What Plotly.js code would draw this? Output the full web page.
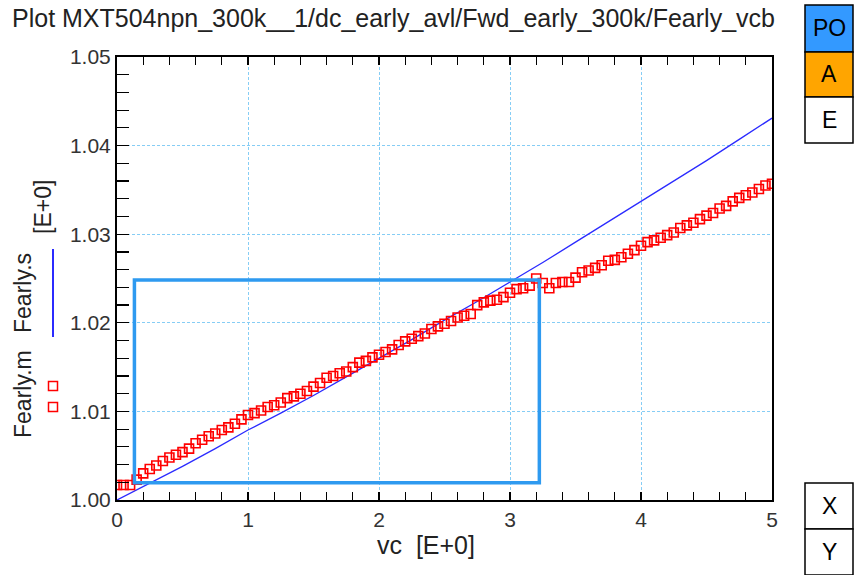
<!DOCTYPE html>
<html>
<head>
<meta charset="utf-8">
<script src="https://cdn.plot.ly/plotly-3.0.1.min.js"></script>
<style>html,body{margin:0;padding:0;background:#fff;}#chart{width:857px;height:575px;}</style>
</head>
<body>
<div id="chart"></div>
<script>
// Fearly.s (simulated, blue line)
const simX = [0, 0.25, 0.5, 0.75, 1.0, 1.25, 1.5, 1.75, 2.0, 2.25, 2.5, 2.75, 3.0, 3.25, 3.5, 3.75, 4.0, 4.25, 4.5, 4.75, 5.0];
const simY = [1.0000, 1.0019, 1.0038, 1.0058, 1.0079, 1.0098, 1.0118, 1.0139, 1.0160, 1.0181, 1.0203, 1.0224, 1.0246, 1.0268, 1.0291, 1.0314, 1.0337, 1.0360, 1.0383, 1.0407, 1.0431];

// Fearly.m (measured, red squares)
const measX = [0.00,0.05,0.10,0.15,0.20,0.25,0.30,0.35,0.40,0.45,0.50,0.55,0.60,0.65,0.70,0.75,0.80,0.85,0.90,0.95,
  1.00,1.05,1.10,1.15,1.20,1.25,1.30,1.35,1.40,1.45,1.50,1.55,1.60,1.65,1.70,1.75,1.80,1.85,1.90,1.95,
  2.00,2.05,2.10,2.15,2.20,2.25,2.30,2.35,2.40,2.45,2.50,2.55,2.60,2.65,2.70,2.75,2.80,2.85,2.90,2.95,
  3.00,3.05,3.10,3.15,3.20,3.25,3.30,3.35,3.40,3.45,3.50,3.55,3.60,3.65,3.70,3.75,3.80,3.85,3.90,3.95,
  4.00,4.05,4.10,4.15,4.20,4.25,4.30,4.35,4.40,4.45,4.50,4.55,4.60,4.65,4.70,4.75,4.80,4.85,4.90,4.95,5.00];
const measY = [1.0017,1.0017,1.0017,1.0023,1.0030,1.0035,1.0039,1.0044,1.0048,1.0051,1.0054,1.0058,1.0064,1.0068,1.0072,1.0075,1.0079,1.0082,1.0086,1.0091,
  1.0096,1.0098,1.0101,1.0105,1.0107,1.0110,1.0115,1.0117,1.0120,1.0123,1.0128,1.0132,1.0138,1.0140,1.0143,1.0145,1.0150,1.0155,1.0157,1.0161,
  1.0164,1.0167,1.0170,1.0175,1.0179,1.0182,1.0185,1.0188,1.0193,1.0196,1.0199,1.0202,1.0206,1.0208,1.0210,1.0220,1.0223,1.0225,1.0226,1.0229,
  1.0234,1.0238,1.0239,1.0242,1.0250,1.0245,1.0239,1.0245,1.0246,1.0246,1.0251,1.0257,1.0259,1.0262,1.0265,1.0270,1.0271,1.0274,1.0278,1.0282,
  1.0287,1.0291,1.0293,1.0296,1.0299,1.0302,1.0307,1.0310,1.0313,1.0317,1.0321,1.0324,1.0329,1.0332,1.0337,1.0341,1.0344,1.0347,1.0351,1.0355,1.0357];

const xTickVals = [0, 1, 2, 3, 4, 5];
const yTickVals = [1.00, 1.01, 1.02, 1.03, 1.04, 1.05];

const titleText = "Plot MXT504npn_300k__1/dc_early_avl/Fwd_early_300k/Fearly_vcb";
const xTitle = "vc\u00a0\u00a0[E+0]";
const legendM = "Fearly.m";
const legendS = "Fearly.s";
const yUnit = "[E+0]";
const buttonsTop = ["PO", "A", "E"];
const buttonsBottom = ["X", "Y"];

const FONT = "Liberation Sans, Arial, sans-serif";
const L = 117, R = 772, T = 57, B = 500;
const px2x = p => (p - L) / (R - L);
const py2y = p => (B - p) / (B - T);

const traces = [
  {x: simX, y: simY, type: 'scatter', mode: 'lines', line: {color: '#2b2bff', width: 1.3}, hoverinfo: 'skip'},
  {x: measX, y: measY, type: 'scatter', mode: 'markers',
   marker: {symbol: 'square-open', size: 9, color: '#ff0000', line: {width: 1.6, color: '#ff0000'}}, hoverinfo: 'skip'}
];

const shapes = [
  {type: 'rect', xref: 'x', yref: 'y', x0: 0.133, x1: 3.224, y0: 1.00196, y1: 1.02483,
   line: {color: '#2e9af0', width: 3.5}, fillcolor: 'rgba(0,0,0,0)'},
  // legend symbols
  {type: 'line', xref: 'paper', yref: 'paper', x0: px2x(53), x1: px2x(53), y0: py2y(249), y1: py2y(337),
   line: {color: '#2b2bff', width: 2}},
  {type: 'rect', xref: 'paper', yref: 'paper', x0: px2x(48.5), x1: px2x(57.5), y0: py2y(381.5), y1: py2y(390.5),
   line: {color: '#ff0000', width: 1.5}},
  {type: 'rect', xref: 'paper', yref: 'paper', x0: px2x(48.5), x1: px2x(57.5), y0: py2y(402.5), y1: py2y(411.5),
   line: {color: '#ff0000', width: 1.5}}
];

const topColors = ['#3399ff', '#ffa500', '#ffffff'];
const topEdges = [5, 52, 97, 143];
const annotations = [];
buttonsTop.forEach((t, i) => {
  shapes.push({type: 'rect', xref: 'paper', yref: 'paper', x0: px2x(805), x1: px2x(853),
    y0: py2y(topEdges[i + 1]), y1: py2y(topEdges[i]), fillcolor: topColors[i], line: {color: '#000', width: 1.5}});
  annotations.push({text: t, xref: 'paper', yref: 'paper', x: px2x(829), y: py2y((topEdges[i] + topEdges[i + 1]) / 2),
    showarrow: false, font: {family: FONT, size: 23, color: '#000'}, xanchor: 'center', yanchor: 'middle'});
});
const botEdges = [483, 529, 575];
buttonsBottom.forEach((t, i) => {
  shapes.push({type: 'rect', xref: 'paper', yref: 'paper', x0: px2x(805), x1: px2x(853),
    y0: py2y(botEdges[i + 1]), y1: py2y(botEdges[i]), fillcolor: '#ffffff', line: {color: '#000', width: 1.5}});
  annotations.push({text: t, xref: 'paper', yref: 'paper', x: px2x(829), y: py2y((botEdges[i] + botEdges[i + 1]) / 2),
    showarrow: false, font: {family: FONT, size: 23, color: '#000'}, xanchor: 'center', yanchor: 'middle'});
});

annotations.push({text: xTitle, xref: 'paper', yref: 'paper', x: px2x(426), y: py2y(545), showarrow: false,
  font: {family: FONT, size: 25, color: '#222'}, xanchor: 'center', yanchor: 'middle'});
annotations.push({text: legendM, xref: 'paper', yref: 'paper', x: px2x(23), y: py2y(394), showarrow: false, textangle: -90,
  font: {family: FONT, size: 23, color: '#222'}, xanchor: 'center', yanchor: 'middle'});
annotations.push({text: legendS, xref: 'paper', yref: 'paper', x: px2x(23), y: py2y(293), showarrow: false, textangle: -90,
  font: {family: FONT, size: 23, color: '#222'}, xanchor: 'center', yanchor: 'middle'});
annotations.push({text: yUnit, xref: 'paper', yref: 'paper', x: px2x(43), y: py2y(207), showarrow: false, textangle: -90,
  font: {family: FONT, size: 23, color: '#222'}, xanchor: 'center', yanchor: 'middle'});

const layout = {
  width: 857, height: 575,
  margin: {l: L, r: 857 - R, t: T, b: 575 - B, pad: 0},
  paper_bgcolor: '#ffffff', plot_bgcolor: '#ffffff',
  showlegend: false,
  title: {text: titleText, x: 12 / 857, xanchor: 'left', xref: 'container', y: 1 - 18 / 575, yanchor: 'middle', yref: 'container',
    font: {family: FONT, size: 25, color: '#222'}},
  xaxis: {range: [0, 5], tickvals: xTickVals, ticktext: xTickVals.map(String),
    showline: true, linecolor: '#000', linewidth: 2, mirror: 'ticks',
    ticks: 'inside', ticklen: 8, tickcolor: '#000', tickwidth: 1,
    showgrid: true, gridcolor: '#86cdf5', gridwidth: 1, griddash: '3px,2px', zeroline: false,
    minor: {dtick: 0.2, tick0: 0, ticks: 'inside', ticklen: 8, tickcolor: '#000', tickwidth: 1.2, showgrid: false},
    tickfont: {family: FONT, size: 21, color: '#333'}},
  yaxis: {range: [1.0, 1.05], tickvals: yTickVals, ticktext: yTickVals.map(v => v.toFixed(2)),
    showline: true, linecolor: '#000', linewidth: 2, mirror: true,
    ticks: 'inside', ticklen: 12, tickcolor: '#000', tickwidth: 1,
    showgrid: true, gridcolor: '#86cdf5', gridwidth: 1, griddash: '3px,2px', zeroline: false,
    minor: {dtick: 0.002, tick0: 1.0, ticks: 'inside', ticklen: 12, tickcolor: '#000', tickwidth: 1.2, showgrid: false},
    tickfont: {family: FONT, size: 21, color: '#333'}},
  shapes: shapes,
  annotations: annotations
};

Plotly.newPlot('chart', traces, layout, {staticPlot: true, displayModeBar: false});
</script>
</body>
</html>
